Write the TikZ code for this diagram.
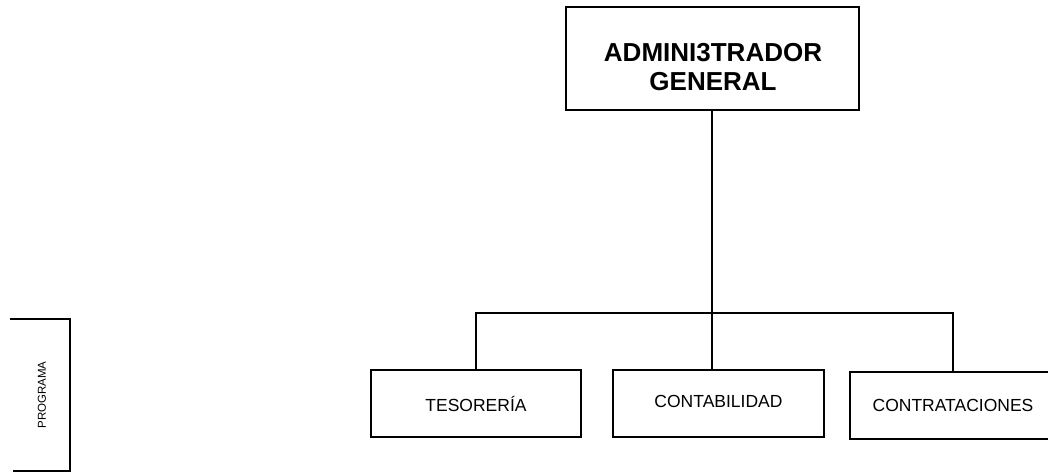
\documentclass[tikz,border=0pt]{standalone}
\usepackage{fontspec}
\setmainfont{Liberation Sans}
\begin{document}
\begin{tikzpicture}[x=1pt,y=-1pt,
  box/.style={draw=black,line width=2pt,rectangle,inner sep=0pt},
  lowbox/.style={box,minimum height=67pt,font=\fontsize{17.5}{20}\selectfont},
  conn/.style={draw=black,line width=2pt},
  titletext/.style={align=center,font=\bfseries\fontsize{26}{29}\selectfont,inner sep=0pt}]
\useasboundingbox (0,0) rectangle (1048,474);
% top box
\node[box,minimum width=293pt,minimum height=103pt] (admin) at (712,58.5) {};
\node[titletext] (admintext) at (713,67) {ADMINI3TRADOR\\GENERAL};
% lower boxes
\node[lowbox,minimum width=210pt] (tes) at (476,403.5) {TESORERÍA};
\node[lowbox,minimum width=211pt] (conta) at (718.5,403.5) {\raisebox{4pt}{CONTABILIDAD}};
\node[lowbox,minimum width=206pt] (contr) at (953,405) {CONTRATACIONES};
% connectors
\coordinate (j) at (712,313);
\draw[conn] (admin.south) -- (admin.south |- conta.north);
\draw[conn] (tes.north) |- (j) -| (contr.north);
% programa bracket
\draw[line width=2pt] (10,319) -- (70,319) -- (70,471) -- (13,471);
\node[rotate=90,font=\fontsize{11.5}{13}\selectfont,inner sep=0pt] (prog) at (42,395) {PROGRAMA};
\end{tikzpicture}
\end{document}
